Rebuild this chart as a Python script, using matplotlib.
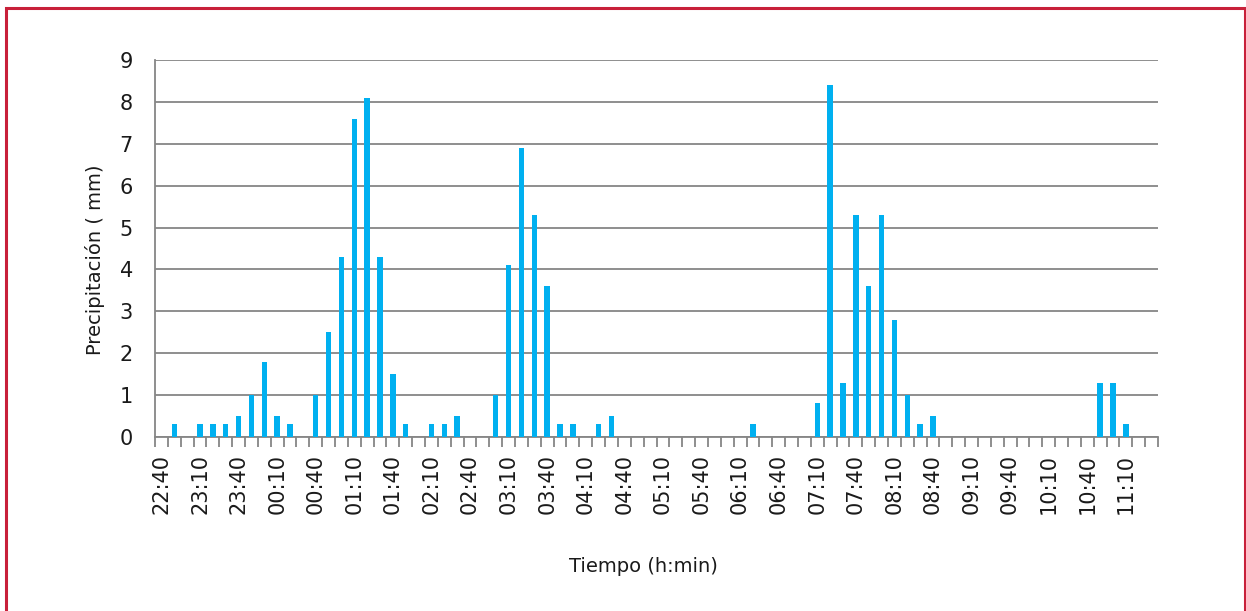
import matplotlib
matplotlib.use('Agg')
import matplotlib.pyplot as plt
from matplotlib.patches import Rectangle
import numpy as np

# ─── данные: осадки каждые 10 минут, 22:40 — 11:30 ─────────────────
START_MIN = 22 * 60 + 40
N_STEPS = 78
times = [f'{((START_MIN + 10 * i) // 60) % 24:02d}:{(START_MIN + 10 * i) % 60:02d}'
         for i in range(N_STEPS)]

rain_times = ['22:50', '23:10', '23:20', '23:30', '23:40', '23:50', '00:00', '00:10',
              '00:20', '00:40', '00:50', '01:00', '01:10', '01:20', '01:30', '01:40',
              '01:50', '02:10', '02:20', '02:30', '03:00', '03:10', '03:20', '03:30',
              '03:40', '03:50', '04:00', '04:20', '04:30', '06:20', '07:10', '07:20',
              '07:30', '07:40', '07:50', '08:00', '08:10', '08:20', '08:30', '08:40',
              '10:50', '11:00', '11:10']
rain_mm = [0.3, 0.3, 0.3, 0.3, 0.5, 1.0, 1.8, 0.5,
           0.3, 1.0, 2.5, 4.3, 7.6, 8.1, 4.3, 1.5,
           0.3, 0.3, 0.3, 0.5, 1.0, 4.1, 6.9, 5.3,
           3.6, 0.3, 0.3, 0.3, 0.5, 0.3, 0.8, 8.4,
           1.3, 5.3, 3.6, 5.3, 2.8, 1.0, 0.3, 0.5,
           1.3, 1.3, 0.3]

values = [0.0] * N_STEPS
for t, v in zip(rain_times, rain_mm):
    values[times.index(t)] = v

# ─── стиль ─────────────────────────────────────────────────────────
plt.rcParams['font.family'] = ['DejaVu Sans']
BAR = '#00B0F0'
GRID = '#868686'
FRAME = '#C8203A'
TXT = '#1a1a1a'
W, H = 1246, 611

fig = plt.figure(figsize=(W / 100, H / 100), dpi=100)
ax = fig.add_axes([155 / W, 1 - 437 / H, (1158 - 155) / W, (437 - 60) / H])

x = np.arange(N_STEPS)
ax.bar(x, values, width=0.42, color=BAR, zorder=3)

ax.set_xlim(-0.5, N_STEPS - 0.5)
ax.set_ylim(0, 9)
ax.set_yticks(range(10))
ax.yaxis.grid(True, color=GRID, linewidth=1.3, zorder=0)

# подписи каждые 30 минут, засечки между столбцами
ax.set_xticks(x[::3])
ax.set_xticklabels(times[::3], rotation=90)
ax.set_xticks(np.arange(-0.5, N_STEPS), minor=True)
ax.tick_params(axis='x', which='major', length=0, pad=12, labelsize=15, labelcolor=TXT)
ax.tick_params(axis='x', which='minor', length=7, width=1.3, color=GRID, direction='out')
ax.tick_params(axis='y', length=0, pad=16, labelsize=15, labelcolor=TXT)

for side in ('top', 'right'):
    ax.spines[side].set_visible(False)
for side in ('left', 'bottom'):
    ax.spines[side].set_color(GRID)
    ax.spines[side].set_linewidth(1.3)

fig.text(95 / W, 1 - 260 / H, 'Precipitación ( mm)', fontsize=14, color=TXT,
         rotation=90, ha='center', va='center')
fig.text(643 / W, 1 - 566 / H, 'Tiempo (h:min)', fontsize=14, color=TXT,
         ha='center', va='center')

# рамка
fig.patches.append(Rectangle((6 / W, -0.01), (1244.5 - 6) / W, 1.01 - 7.5 / H,
                             transform=fig.transFigure, fill=False,
                             edgecolor=FRAME, linewidth=2.2))

fig.savefig('out.png', dpi=100)
